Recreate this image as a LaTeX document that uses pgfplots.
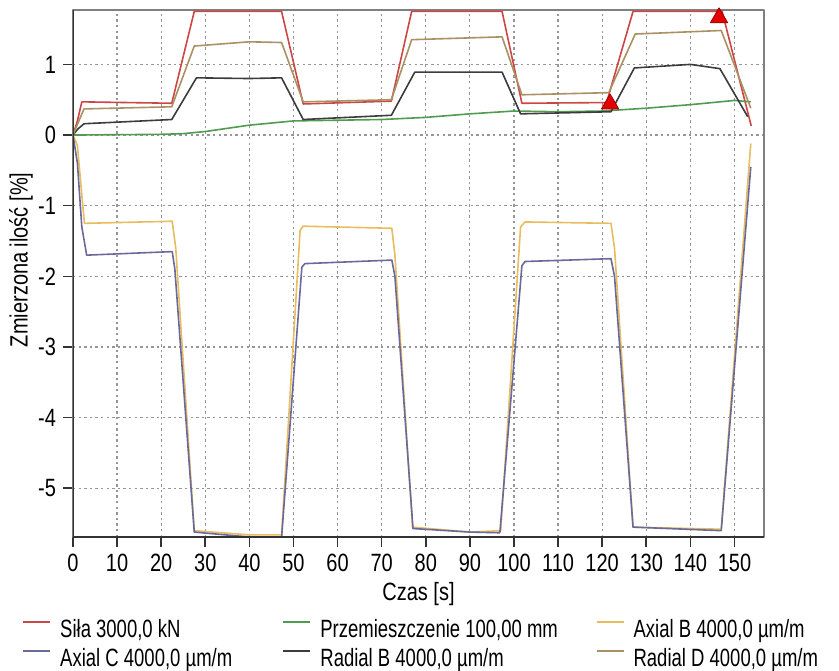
\documentclass[border=0pt]{standalone}
\usepackage{fontspec}
\setmainfont{Liberation Sans}[FakeStretch=0.8]
\newfontfamily\legfont{Liberation Sans}[FakeStretch=0.74]
\usepackage{pgfplots}
\pgfplotsset{compat=1.18}
\definecolor{csila}{RGB}{205,70,70}
\definecolor{cprz}{RGB}{80,155,80}
\definecolor{caxb}{RGB}{232,188,95}
\definecolor{caxc}{RGB}{105,105,155}
\definecolor{cradb}{RGB}{60,60,60}
\definecolor{cradd}{RGB}{170,145,100}
\definecolor{cgrid}{RGB}{150,150,150}
\newcommand{\lfont}{\fontsize{12.5}{14.5}\selectfont}
\begin{document}
\begin{tikzpicture}
\begin{axis}[
  scale only axis, width=345.5pt, height=263.5pt,
  xmin=0, xmax=156.7, ymin=-5.69, ymax=1.77,
  xtick={0,10,...,150}, ytick={-5,-4,-3,-2,-1,0,1},
  yticklabels={-5,-4,-3,-2,-1,0,1},
  /pgf/number format/assume math mode=true,
  tick label style={font=\lfont},
  xtick pos=bottom, ytick pos=left, tick align=outside,
  major tick length=5pt,
  tick style={draw=black!80, line width=0.8pt},
  grid=major,
  major grid style={draw=cgrid, line width=0.6pt, dash pattern=on 1.2pt off 1.6pt},
  axis line style={draw=gray, line width=0.8pt},
  xlabel={Czas [s]}, ylabel={Zmierzona ilość [\%]},
  every axis x label/.style={at={([yshift=-28.5pt]axis description cs:0.5,0)}, anchor=center, font=\lfont},
  every axis y label/.style={at={([xshift=-26pt]axis description cs:0,0.526)}, anchor=center, rotate=90, font=\lfont},
  legend columns=3,
  legend cell align=left,
  legend style={draw=none, fill=none, font=\lfont\legfont, inner sep=0pt, outer sep=0pt,
    at={([xshift=-25.5pt,yshift=-41pt]axis description cs:0,0)}, anchor=north west,
    column sep=0pt, row sep=3pt,
    nodes={inner sep=0pt, text height=9pt, text depth=2.6pt}},
  legend image code/.code={\draw[#1, line width=1.1pt] (0pt,4.3pt) -- (13.5pt,4.3pt);},
  line join=round,
]
% Sila
\addplot[csila, line width=0.8pt] coordinates {
(0,0) (1,0.2) (2,0.47) (22.4,0.45) (27.5,1.75) (47.3,1.75) (52.2,0.44) (72.2,0.48)
(76.8,1.75) (97.3,1.75) (101.8,0.45) (121,0.46) (127,1.75) (147.2,1.75) (153.8,0.13)};
\addlegendentry{\makebox[115.5pt][l]{\hspace{4.5pt}Siła 3000,0 kN}}
% Przemieszczenie
\addplot[cprz, line width=0.8pt] coordinates {
(0,0) (20,0.01) (25,0.02) (30,0.05) (40,0.14) (50,0.20) (60,0.21) (70,0.22) (80,0.25)
(90,0.30) (100,0.34) (110,0.33) (120,0.34) (130,0.38) (140,0.43) (150,0.49) (153.7,0.47)};
\addlegendentry{\makebox[142pt][l]{\hspace{4.5pt}Przemieszczenie 100,00 mm}}
% Axial B
\addplot[caxb, line width=0.8pt] coordinates {
(0,0) (1,-0.15) (2,-0.85) (2.6,-1.25) (22.5,-1.22) (23.3,-1.6) (27.5,-5.6) (40,-5.66)
(47.3,-5.66) (51.5,-1.35) (52.2,-1.29) (72.3,-1.32) (73,-1.7) (77,-5.55) (90,-5.62)
(97,-5.6) (101.5,-1.3) (102.5,-1.23) (122,-1.25) (122.8,-1.6) (127,-5.55) (147,-5.58)
(153.7,-0.12)};
\addlegendentry{\hspace{4.5pt}Axial B 4000,0 µm/m}
% Axial C
\addplot[caxc, line width=0.8pt] coordinates {
(0,0) (1,-0.4) (2,-1.3) (3.1,-1.70) (22.5,-1.65) (23.1,-1.9) (27.5,-5.62) (40,-5.69)
(47.3,-5.70) (51.9,-1.87) (52.6,-1.82) (72.3,-1.77) (73,-2.0) (77.1,-5.57) (90,-5.62)
(96.8,-5.63) (101.8,-1.85) (102.5,-1.79) (122,-1.75) (122.8,-2.0) (127,-5.55) (147,-5.6)
(153.7,-0.45)};
\addlegendentry{\makebox[115.5pt][l]{\hspace{4.5pt}Axial C 4000,0 µm/m}}
% Radial B
\addplot[cradb, line width=0.8pt] coordinates {
(0,0) (1,0.08) (2.5,0.16) (22.4,0.22) (28,0.81) (40,0.80) (47.3,0.81) (52.2,0.22)
(72.2,0.28) (77.5,0.89) (97.3,0.89) (101.5,0.30) (122,0.33) (127.3,0.95) (140,1.0)
(146.7,0.94) (153,0.26)};
\addlegendentry{\makebox[142pt][l]{\hspace{4.5pt}Radial B 4000,0 µm/m}}
% Radial D
\addplot[cradd, line width=0.8pt] coordinates {
(0,0) (1,0.15) (2.5,0.37) (22.4,0.40) (27.5,1.26) (40,1.32) (47.3,1.31) (52.2,0.47)
(72.2,0.50) (76.8,1.35) (97.3,1.39) (101.8,0.57) (121.5,0.60) (127.5,1.43) (147,1.48)
(153.7,0.38)};
\addlegendentry{\hspace{4.5pt}Radial D 4000,0 µm/m}
% markers
\addplot[only marks, mark=triangle*, mark size=5pt, mark options={fill=red!90!black, draw=red!60!black, line width=0.4pt}, forget plot]
coordinates {(121.8,0.44) (146.5,1.66)};
\draw[black!80, line width=1.2pt] (rel axis cs:0,1) -- (rel axis cs:0,0) -- (rel axis cs:1,0);
\end{axis}
\pgfresetboundingbox
\path (-36.5pt,-66.5pt) rectangle (383pt,268.5pt);
\end{tikzpicture}
\end{document}
